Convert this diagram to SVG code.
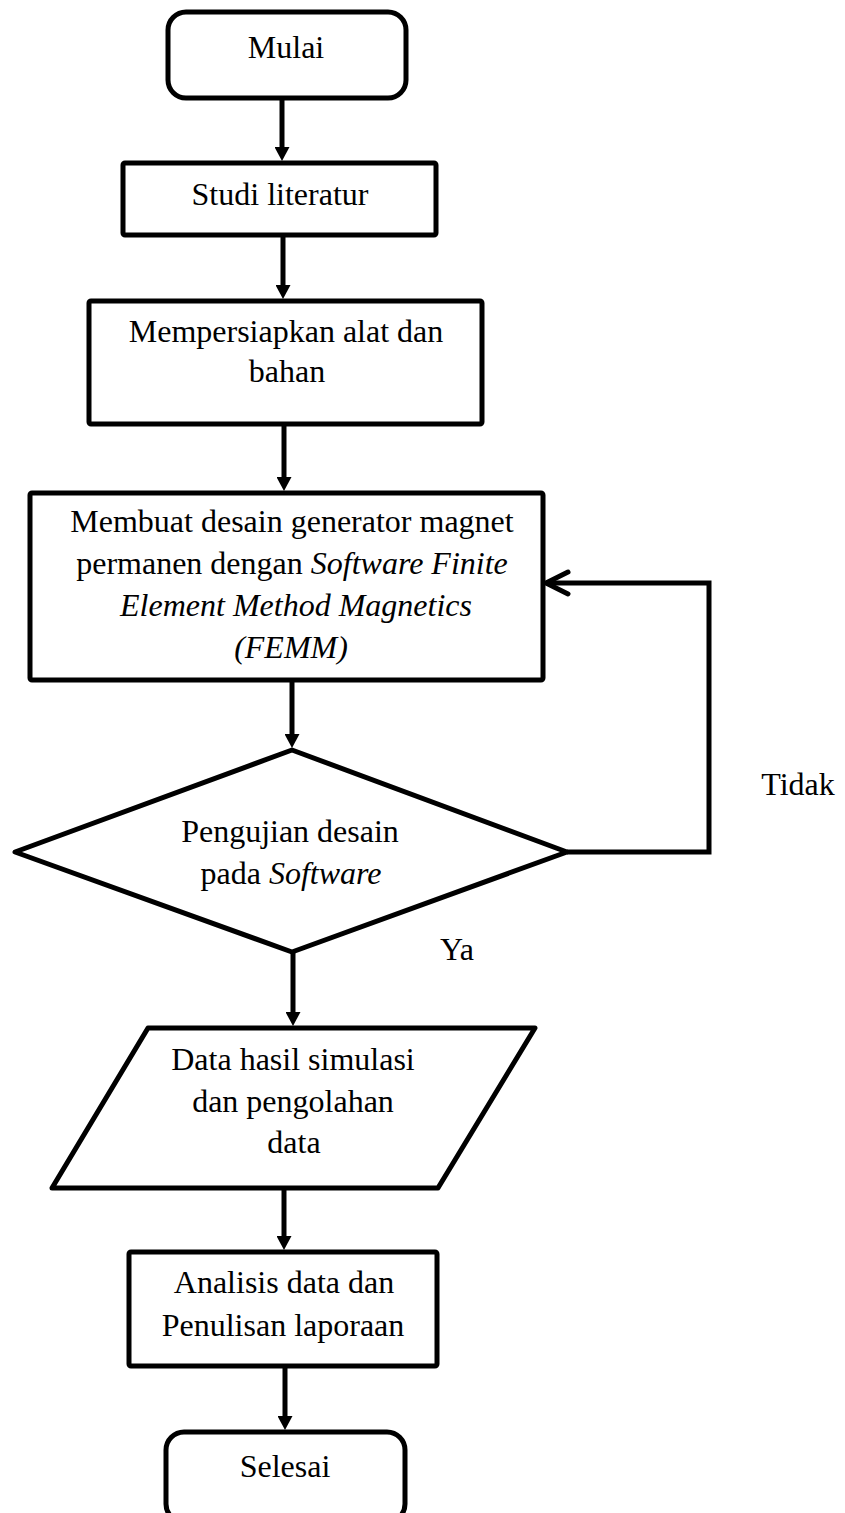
<svg xmlns="http://www.w3.org/2000/svg" width="845" height="1513" viewBox="0 0 845 1513">
<style>
  .box { fill: #ffffff; stroke: #000000; stroke-width: 5; stroke-linejoin: round; }
  .conn { fill: none; stroke: #000000; stroke-width: 5; stroke-linejoin: miter; }
  .t { font-family: "Liberation Serif", "Times New Roman", serif; font-size: 32px; fill: #000000; text-anchor: middle; }
  .i { font-style: italic; }
</style>
<defs>
  <marker id="ah" viewBox="0 0 14 15" refX="5" refY="7.5" markerWidth="14" markerHeight="15" markerUnits="userSpaceOnUse" orient="auto">
    <path d="M0,0 L14,7.5 L0,15 z" fill="#000000"/>
  </marker>
</defs>
<rect width="845" height="1513" fill="#ffffff"/>

<g id="connectors">
  <line class="conn" x1="282" y1="98" x2="282" y2="152" marker-end="url(#ah)"/>
  <line class="conn" x1="283" y1="235" x2="283" y2="290" marker-end="url(#ah)"/>
  <line class="conn" x1="284" y1="424" x2="284" y2="482" marker-end="url(#ah)"/>
  <line class="conn" x1="292" y1="680" x2="292" y2="739" marker-end="url(#ah)"/>
  <line class="conn" x1="293" y1="952" x2="293" y2="1017" marker-end="url(#ah)"/>
  <line class="conn" x1="284" y1="1188" x2="284" y2="1241" marker-end="url(#ah)"/>
  <line class="conn" x1="285" y1="1366" x2="285" y2="1421" marker-end="url(#ah)"/>
  <polyline class="conn" points="567,852 709,852 709,583 546,583"/>
  <polyline class="conn" points="568,572 546,583 568,594" stroke-linecap="round" stroke-linejoin="round"/>
  <text class="t" x="798" y="795">Tidak</text>
  <text class="t" x="457" y="960">Ya</text>
</g>

<g id="mulai">
  <rect class="box" x="168" y="12" width="238" height="86" rx="18" ry="18"/>
  <text class="t" x="286" y="58">Mulai</text>
</g>

<g id="studi">
  <rect class="box" x="123" y="163" width="313" height="72" rx="2"/>
  <text class="t" x="280" y="205">Studi literatur</text>
</g>

<g id="persiapan">
  <rect class="box" x="89" y="301" width="393" height="123" rx="2"/>
  <text class="t" x="286" y="342">Mempersiapkan alat dan</text>
  <text class="t" x="287" y="382">bahan</text>
</g>

<g id="desain">
  <rect class="box" x="30" y="493" width="513" height="187" rx="2"/>
  <text class="t" x="292" y="532">Membuat desain generator magnet</text>
  <text class="t" x="292" y="574">permanen dengan <tspan class="i">Software Finite</tspan></text>
  <text class="t i" x="296" y="616">Element Method Magnetics</text>
  <text class="t i" x="291" y="658">(FEMM)</text>
</g>

<g id="pengujian">
  <polygon class="box" points="292,750 567,852 292,952 15,852"/>
  <text class="t" x="290" y="842">Pengujian desain</text>
  <text class="t" x="291" y="884">pada <tspan class="i">Software</tspan></text>
</g>

<g id="data">
  <polygon class="box" points="148,1028 535,1028 438,1188 52,1188"/>
  <text class="t" x="293" y="1070">Data hasil simulasi</text>
  <text class="t" x="293" y="1112">dan pengolahan</text>
  <text class="t" x="294" y="1153">data</text>
</g>

<g id="analisis">
  <rect class="box" x="129" y="1252" width="308" height="114" rx="2"/>
  <text class="t" x="284" y="1293">Analisis data dan</text>
  <text class="t" x="283" y="1336">Penulisan laporaan</text>
</g>

<g id="selesai">
  <rect class="box" x="166" y="1432" width="239" height="90" rx="18" ry="18"/>
  <text class="t" x="285" y="1477">Selesai</text>
</g>
</svg>
